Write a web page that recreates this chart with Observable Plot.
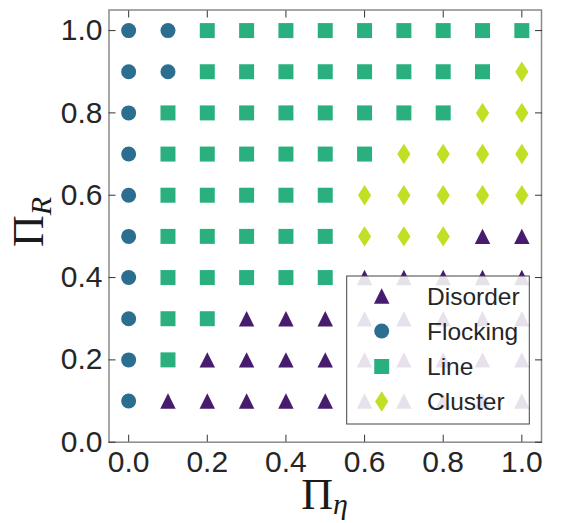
<!DOCTYPE html>
<html><head><meta charset="utf-8">
<script src="https://cdn.jsdelivr.net/npm/d3@7"></script>
<script src="https://cdn.jsdelivr.net/npm/@observablehq/plot@0.6"></script>
<style>body{margin:0;background:#fff} svg{display:block}</style>
</head><body><div id="chart"></div>
<script>
// ---- data ----
const phases = ["Disorder", "Flocking", "Line", "Cluster"];
const phaseColors = ["#471b6e", "#2c6e8f", "#2ab07f", "#c0df25"];
const piEta = [0.0, 0.1, 0.2, 0.3, 0.4, 0.5, 0.6, 0.7, 0.8, 0.9, 1.0];
const piR = [1.0, 0.9, 0.8, 0.7, 0.6, 0.5, 0.4, 0.3, 0.2, 0.1];
// phase observed at each (piEta, piR); D=Disorder F=Flocking L=Line C=Cluster
const phaseGrid = [
  ["F","F","L","L","L","L","L","L","L","L","L"], // 1.0
  ["F","F","L","L","L","L","L","L","L","L","C"], // 0.9
  ["F","L","L","L","L","L","L","L","L","C","C"], // 0.8
  ["F","L","L","L","L","L","L","C","C","C","C"], // 0.7
  ["F","L","L","L","L","L","C","C","C","C","C"], // 0.6
  ["F","L","L","L","L","L","C","C","C","D","D"], // 0.5
  ["F","L","L","L","L","L","D","D","D","D","D"], // 0.4
  ["F","L","L","D","D","D","D","D","D","D","D"], // 0.3
  ["F","L","D","D","D","D","D","D","D","D","D"], // 0.2
  ["F","D","D","D","D","D","D","D","D","D","D"]  // 0.1
];
const codeNames = {D: "Disorder", F: "Flocking", L: "Line", C: "Cluster"};
const xTicks = [0.0, 0.2, 0.4, 0.6, 0.8, 1.0];
const yTicks = [0.0, 0.2, 0.4, 0.6, 0.8, 1.0];

// ---- table ----
const cells = [];
phaseGrid.forEach((row, i) => row.forEach((c, j) => cells.push({eta: piEta[j], r: piR[i], phase: codeNames[c]})));

// ---- marker shapes (matplotlib-like, bbox centred) ----
const mk = (f) => ({draw(ctx, size) { f(ctx, Math.sqrt(size / Math.PI)); }});
const symbols = {
  Disorder: mk((c, s) => { const h = s * 1.03; c.moveTo(0, -h); c.lineTo(h, h); c.lineTo(-h, h); c.closePath(); }),
  Flocking: mk((c, s) => { c.moveTo(s, 0); c.arc(0, 0, s, 0, 2 * Math.PI); c.closePath(); }),
  Line: mk((c, s) => { c.rect(-s, -s, 2 * s, 2 * s); }),
  Cluster: mk((c, s) => { const w = s * 0.88, h = s * 1.36; c.moveTo(0, -h); c.lineTo(w, 0); c.lineTo(0, h); c.lineTo(-w, 0); c.closePath(); })
};
const R = 7.5;

const W = 563, H = 523;
const mLeft = 108.5, mRight = 22, mTop = 9.5, mBottom = 81.3;

const marks = [
  Plot.frame({stroke: "#8a8a8a", strokeWidth: 1.5}),
  Plot.axisX(xTicks, {anchor: "bottom", tickSize: -7, tickPadding: 15.5, fontSize: 30, stroke: "#333", fill: "#262626", tickFormat: d3.format(".1f"), label: null}),
  Plot.axisX(xTicks, {anchor: "top", tickSize: -7, stroke: "#333", tickFormat: () => "", label: null}),
  Plot.axisY(yTicks, {anchor: "left", tickSize: -7, tickPadding: 13.5, fontSize: 30, stroke: "#333", fill: "#262626", tickFormat: d3.format(".1f"), label: null}),
  Plot.axisY(yTicks, {anchor: "right", tickSize: -7, stroke: "#333", tickFormat: () => "", label: null})
];
phases.forEach((p, k) => {
  marks.push(Plot.dot(cells.filter(d => d.phase === p), {
    x: "eta", y: "r", r: R, symbol: symbols[p], fill: phaseColors[k], stroke: "none"
  }));
});

const chart = Plot.plot({
  width: W, height: H,
  marginLeft: mLeft, marginRight: mRight, marginTop: mTop, marginBottom: mBottom,
  x: {domain: [-0.05, 1.05]},
  y: {domain: [0, 1.05]},
  style: {fontFamily: "'Liberation Sans', Arial, sans-serif", background: "#fff", color: "#262626"},
  marks
});
document.getElementById("chart").append(chart);

// ---- axis titles & legend ----
const svg = d3.select(chart);
const serif = "'Liberation Serif', 'Times New Roman', serif";
const xl = svg.append("text").attr("x", 324.5).attr("y", 509).attr("text-anchor", "middle")
  .attr("font-family", serif).attr("font-size", 44).attr("fill", "#1a1a1a");
xl.append("tspan").text("Π");
xl.append("tspan").attr("font-style", "italic").attr("font-size", 30).attr("dy", 5).text("η");

const yl = svg.append("text").attr("transform", "translate(43,222) rotate(-90)").attr("text-anchor", "middle")
  .attr("font-family", serif).attr("font-size", 44).attr("fill", "#1a1a1a");
yl.append("tspan").text("Π");
yl.append("tspan").attr("font-style", "italic").attr("font-size", 30).attr("dy", 8).text("R");

const lg = svg.append("g");
lg.append("rect").attr("x", 346.7).attr("y", 276).attr("width", 182.6).attr("height", 148)
  .attr("fill", "#fff").attr("fill-opacity", 0.87).attr("stroke", "#444").attr("stroke-width", 1);
const rowY = [296, 331, 366.5, 401.5];
phases.forEach((p, k) => {
  const path = d3.path();
  symbols[p].draw(path, Math.PI * R * R);
  lg.append("path").attr("transform", `translate(381.7,${rowY[k]})`).attr("d", path.toString()).attr("fill", phaseColors[k]);
  lg.append("text").attr("x", 427).attr("y", rowY[k]).attr("dy", "0.35em").attr("text-anchor", "start")
    .attr("font-family", "'Liberation Sans', Arial, sans-serif").attr("font-size", 24.5).attr("fill", "#262626").text(p);
});
</script>
</body></html>
